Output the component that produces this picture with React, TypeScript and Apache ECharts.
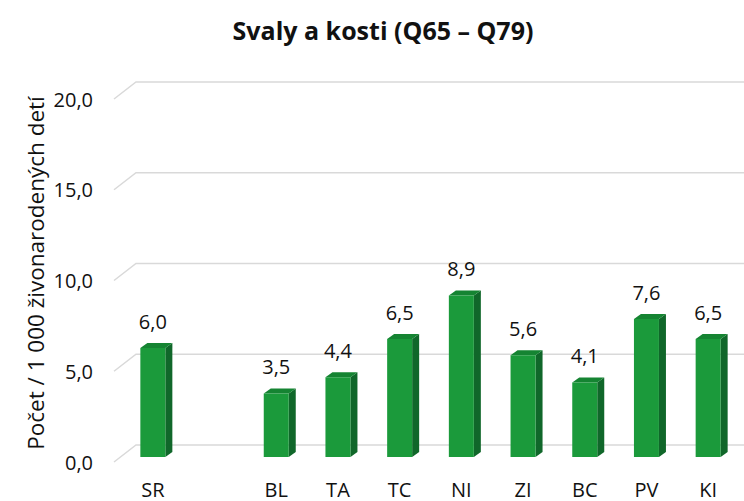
import React, { useEffect, useRef } from "react";
import * as echarts from "echarts";

const categories = ["SR", "", "BL", "TA", "TC", "NI", "ZI", "BC", "PV", "KI"];
const values: (number | null)[] = [6.0, null, 3.5, 4.4, 6.5, 8.9, 5.6, 4.1, 7.6, 6.5];
const yTicks = [0, 5, 10, 15, 20];
const titleText = "Svaly a kosti (Q65 – Q79)";
const yAxisTitle = "Počet / 1 000 živonarodených detí";

const FONT = "'Open Sans', sans-serif";
const FRONT = "#1b9a3b";
const SIDE = "#10672a";
const TOP = "#158432";

const fmt = (v: number) => v.toFixed(1).replace(".", ",");

export default function App() {
  const ref = useRef<HTMLDivElement>(null);
  useEffect(() => {
    if (!ref.current) return;
    const chart = echarts.init(ref.current, null, { renderer: "svg" });
    const barData = values
      .map((v, i) => [i, v])
      .filter((d) => d[1] !== null);
    chart.setOption({
      animation: false,
      backgroundColor: "#ffffff",
      title: {
        text: titleText,
        left: 378,
        top: 12,
        textAlign: "center",
        textStyle: { fontFamily: FONT, fontSize: 25, fontWeight: "bold", color: "#111" },
      },
      graphic: [
        {
          type: "text",
          x: 35,
          y: 273,
          rotation: Math.PI / 2,
          style: {
            text: yAxisTitle,
            align: "center",
            verticalAlign: "middle",
            fontFamily: FONT,
            fontSize: 22.5,
            fill: "#111",
          },
        },
      ],
      grid: { left: 122, width: 617, top: 82, height: 363 },
      xAxis: {
        type: "category",
        data: categories,
        axisLine: { show: false },
        axisTick: { show: false },
        axisLabel: { margin: 34, fontFamily: FONT, fontSize: 20, color: "#111", interval: 0 },
        splitLine: { show: false },
      },
      yAxis: {
        type: "value",
        min: 0,
        max: 20,
        interval: 5,
        axisLine: { show: false },
        axisTick: { show: false },
        splitLine: { show: false },
        axisLabel: { show: false },
      },
      series: [
        {
          type: "custom",
          data: yTicks.map((t) => [0, t]),
          encode: { x: 0, y: 1 },
          silent: true,
          z: 1,
          renderItem: (params: any, api: any) => {
            const cs = params.coordSys;
            const val = api.value(1);
            const y = api.coord([0, val])[1];
            return {
              type: "group",
              children: [
                {
                  type: "polyline",
                  shape: {
                    points: [
                      [cs.x - 8, y + 17],
                      [cs.x + 14, y],
                      [cs.x + cs.width + 6, y],
                    ],
                  },
                  style: { stroke: "#d9d9d9", lineWidth: 1.5, fill: "none" },
                },
                {
                  type: "text",
                  style: {
                    text: fmt(val),
                    x: cs.x - 29,
                    y: y + 17,
                    align: "right",
                    verticalAlign: "middle",
                    fontFamily: FONT,
                    fontSize: 20,
                    fill: "#111",
                  },
                },
              ],
            };
          },
        },
        {
          type: "custom",
          data: barData,
          encode: { x: 0, y: 1 },
          z: 2,
          renderItem: (params: any, api: any) => {
            const i = api.value(0);
            const v = api.value(1);
            const p0 = api.coord([i, 0]);
            const p1 = api.coord([i, v]);
            const off = 12;
            const hw = 12.5;
            const dx = 7;
            const dy = -5;
            const cx = p0[0];
            const yb = p0[1] + off;
            const yt = p1[1] + off;
            const xl = cx - hw;
            const xr = cx + hw;
            return {
              type: "group",
              children: [
                {
                  type: "polygon",
                  shape: { points: [[xr, yt], [xr + dx, yt + dy], [xr + dx, yb + dy], [xr, yb]] },
                  style: { fill: SIDE },
                },
                {
                  type: "polygon",
                  shape: { points: [[xl, yt], [xl + dx, yt + dy], [xr + dx, yt + dy], [xr, yt]] },
                  style: { fill: TOP },
                },
                {
                  type: "rect",
                  shape: { x: xl, y: yt, width: hw * 2, height: yb - yt },
                  style: { fill: FRONT },
                },
                {
                  type: "text",
                  style: {
                    text: fmt(Number(v)),
                    x: cx,
                    y: yt - 27,
                    align: "center",
                    verticalAlign: "middle",
                    fontFamily: FONT,
                    fontSize: 20,
                    fill: "#111",
                  },
                },
              ],
            };
          },
        },
      ],
    });
    return () => chart.dispose();
  }, []);
  return (
    <div
      ref={ref}
      style={{ position: "fixed", left: 0, top: 0, width: 744, height: 501 }}
    />
  );
}
